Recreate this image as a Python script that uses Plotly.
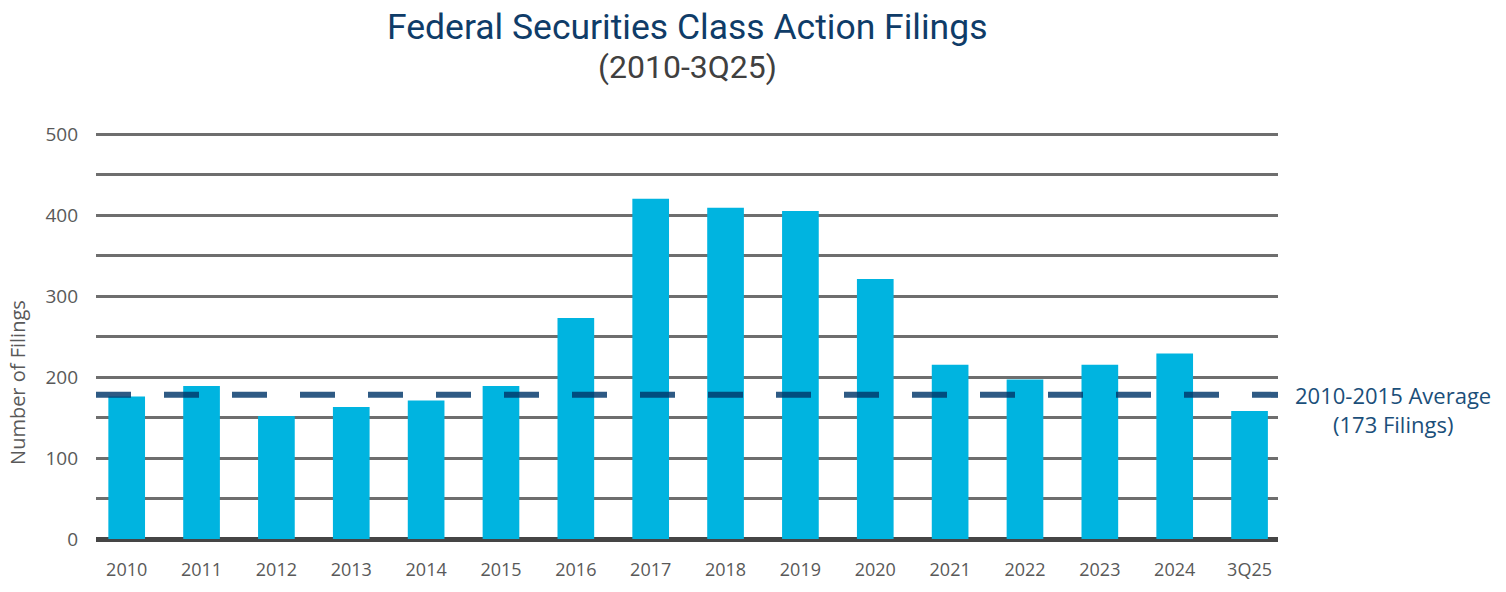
import plotly.graph_objects as go

categories = ["2010", "2011", "2012", "2013", "2014", "2015", "2016", "2017",
              "2018", "2019", "2020", "2021", "2022", "2023", "2024", "3Q25"]
filings = [176, 189, 152, 163, 171, 189, 273, 420, 409, 405, 321, 215, 197, 215, 229, 158]
average_line_value = 178
average_label_1 = "2010-2015 Average"
average_label_2 = "(173 Filings)"
y_tick_values = [0, 100, 200, 300, 400, 500]

title_text = "Federal Securities Class Action Filings"
subtitle_text = "(2010-3Q25)"
y_title = "Number of Filings"

BAR = "#00B4E0"
GRID = "#6E6E6E"
TEXT = "#595959"
NAVY = "#0F3C68"

fig = go.Figure()
fig.add_trace(go.Bar(
    x=categories, y=filings, marker=dict(color=BAR, line=dict(width=0)),
    width=0.49, hoverinfo="x+y"))

fig.add_shape(type="line", xref="paper", x0=0, x1=1, yref="y",
              y0=average_line_value, y1=average_line_value,
              line=dict(color="rgba(0,54,105,0.82)", width=6, dash="35px,33px"),
              layer="above")

fig.update_layout(
    width=1506, height=592,
    margin=dict(l=96, r=228, t=130, b=53),
    paper_bgcolor="white", plot_bgcolor="white",
    showlegend=False,
    font=dict(family="Open Sans", color=TEXT, size=18),
    xaxis=dict(type="category", range=[-0.41, 15.38], showgrid=False,
               showline=False, ticks="", tickfont=dict(size=18, color=TEXT),
               ticklabelstandoff=18),
    yaxis=dict(range=[0, 505], tickvals=y_tick_values, showgrid=True,
               gridcolor=GRID, gridwidth=3, zeroline=True, zerolinecolor="#454545",
               zerolinewidth=5, showline=False, ticks="",
               tickfont=dict(size=19, color=TEXT), ticklabelstandoff=17,
               minor=dict(dtick=50, tick0=0, showgrid=True, gridcolor=GRID, gridwidth=3)),
    annotations=[
        dict(text=title_text, xref="paper", yref="paper", x=0.5, y=1.252,
             xanchor="center", yanchor="middle", showarrow=False,
             font=dict(family="Roboto", size=35.5, color=NAVY)),
        dict(text=subtitle_text, xref="paper", yref="paper", x=0.5, y=1.154,
             xanchor="center", yanchor="middle", showarrow=False,
             font=dict(family="Roboto", size=32, color="#404040")),
        dict(text=average_label_1, xref="paper", yref="paper", x=1.0973, y=0.352,
             xanchor="center", yanchor="middle", showarrow=False,
             font=dict(family="Open Sans", size=22, color="#1B4F7A")),
        dict(text=average_label_2, xref="paper", yref="paper", x=1.0973, y=0.281,
             xanchor="center", yanchor="middle", showarrow=False,
             font=dict(family="Open Sans", size=22, color="#1B4F7A")),
        dict(text=y_title, xref="paper", yref="paper", x=-0.0660, y=0.384,
             xanchor="center", yanchor="middle", showarrow=False, textangle=-90,
             font=dict(family="Open Sans", size=20, color=TEXT)),
    ],
)

fig.write_html("out.html", config={"displayModeBar": False},
               post_script="document.body.style.margin='0';")
